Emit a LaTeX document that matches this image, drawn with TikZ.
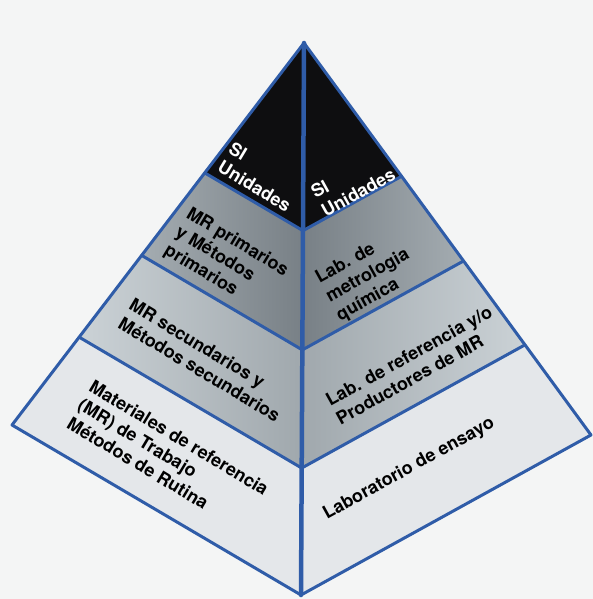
\documentclass[tikz,border=0pt]{standalone}
\usepackage{fontspec}
\setmainfont{TeX Gyre Heros}
\usetikzlibrary{calc}
\definecolor{edgeblue}{HTML}{2F5CA8}
\definecolor{bgcol}{HTML}{F4F5F5}
\definecolor{topblack}{HTML}{0E0E10}
\definecolor{midlight}{HTML}{A4ACB1}
\definecolor{middark}{HTML}{788086}
\definecolor{lowlight}{HTML}{CBD2D6}
\definecolor{lowdark}{HTML}{A0A8AD}
\definecolor{baselight}{HTML}{E4E7EA}
\begin{document}
\begin{tikzpicture}[x=1pt,y=-1pt,
  edge/.style={draw=edgeblue, line width=3pt, line join=round, line cap=round},
  spine/.style={draw=edgeblue, line width=4.5pt, line cap=round},
  lbl/.style={font=\bfseries\fontsize{18}{21.5}\selectfont, align=left, inner sep=0pt, text=black},
  lft/.style={lbl, rotate=-31},
  rgt/.style={lbl, rotate=29}]
\fill[bgcol] (0,0) rectangle (593,599);
\useasboundingbox (0,0) rectangle (593,599);
\coordinate (A) at (304,43);
\coordinate (L) at (12,425);
\coordinate (R) at (591,435);
\coordinate (B) at (301,595);
\coordinate (L1) at ($(A)!0.34!(L)$);
\coordinate (M1) at ($(A)!0.34!(B)$);
\coordinate (R1) at ($(A)!0.34!(R)$);
\coordinate (L2) at ($(A)!0.556!(L)$);
\coordinate (M2) at ($(A)!0.556!(B)$);
\coordinate (R2) at ($(A)!0.556!(R)$);
\coordinate (L3) at ($(A)!0.77!(L)$);
\coordinate (M3) at ($(A)!0.77!(B)$);
\coordinate (R3) at ($(A)!0.77!(R)$);
% fills
\fill[topblack] (A) -- (L1) -- (M1) -- (R1) -- cycle;
\shade[left color=midlight, right color=middark] (L1) -- (L2) -- (M2) -- (M1) -- cycle;
\shade[left color=middark, right color=midlight] (M1) -- (M2) -- (R2) -- (R1) -- cycle;
\shade[left color=lowlight, right color=lowdark] (L2) -- (L3) -- (M3) -- (M2) -- cycle;
\shade[left color=lowdark, right color=lowlight] (M2) -- (M3) -- (R3) -- (R2) -- cycle;
\fill[baselight] (L3) -- (L) -- (B) -- (M3) -- cycle;
\fill[baselight] (M3) -- (B) -- (R) -- (R3) -- cycle;
% lines
\draw[edge] (L1) -- (M1) -- (R1);
\draw[edge] (L2) -- (M2) -- (R2);
\draw[edge] (L3) -- (M3) -- (R3);
\draw[edge] (A) -- (L) -- (B) -- (R) -- cycle;
\draw[spine] (A) -- (B);
% labels
\node[lft, text=white] (siL) at (260,177) {SI\\Unidades};
\node[lft] (prim) at (226,261) {MR primarios\\y Métodos\\primarios};
\node[lft] (sec) at (205,360) {MR secundarios y\\Métodos secundarios};
\node[lft] (trab) at (168,456) {Materiales de referencia\\(MR) de Trabajo\\Métodos de Rutina};
\node[rgt, text=white] (siR) at (353,183) {SI\\Unidades};
\node[rgt] (metro) at (368,276) {Lab. de\\metrologia\\química};
\node[rgt] (prod) at (414,365) {Lab. de referencia y/o\\Productores de MR};
\node[rgt] (ensayo) at (409,469) {Laboratorio de ensayo};
\end{tikzpicture}
\end{document}
